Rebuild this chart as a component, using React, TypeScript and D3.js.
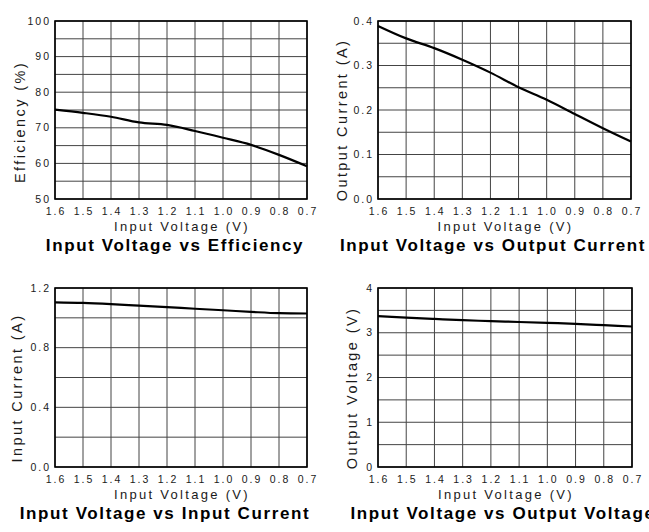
import * as d3 from 'd3';

const INPUT_VOLTAGE = [1.6, 1.5, 1.4, 1.3, 1.2, 1.1, 1.0, 0.9, 0.8, 0.7];
const EFFICIENCY = [75.1, 74.2, 73.1, 71.5, 70.8, 69.1, 67.2, 65.2, 62.4, 59.2];
const OUTPUT_CURRENT = [0.389, 0.361, 0.339, 0.313, 0.284, 0.251, 0.223, 0.191, 0.159, 0.129];
const INPUT_CURRENT = [1.104, 1.1, 1.092, 1.082, 1.072, 1.061, 1.051, 1.04, 1.031, 1.029];
const OUTPUT_VOLTAGE = [3.37, 3.34, 3.31, 3.28, 3.26, 3.24, 3.22, 3.2, 3.17, 3.14];

const X_TICKS = [1.6, 1.5, 1.4, 1.3, 1.2, 1.1, 1.0, 0.9, 0.8, 0.7];
const EFF_TICKS = [50, 60, 70, 80, 90, 100];
const OUT_I_TICKS = [0, 0.1, 0.2, 0.3, 0.4];
const IN_I_TICKS = [0, 0.4, 0.8, 1.2];
const OUT_V_TICKS = [0, 1, 2, 3, 4];

const FONT = '"Liberation Sans", Arial, sans-serif';

interface Panel {
  values: number[];
  yDomain: [number, number];
  yTicks: number[];
  gridStep: number;
  fmt: (v: number) => string;
  yLabel: string;
  title: string;
  left: number; right: number; top: number; bottom: number;
  yLabelX: number; yLabelY: number;
  titleX: number;
}

const PANELS: Panel[] = [
  {
    values: EFFICIENCY, yDomain: [50, 100], yTicks: EFF_TICKS, gridStep: 5, fmt: d3.format('d'),
    yLabel: 'Efficiency (%)', title: 'Input Voltage vs Efficiency',
    left: 55, right: 307, top: 21, bottom: 199, yLabelX: 25, yLabelY: 122, titleX: 175,
  },
  {
    values: OUTPUT_CURRENT, yDomain: [0, 0.4], yTicks: OUT_I_TICKS, gridStep: 0.05, fmt: d3.format('.1f'),
    yLabel: 'Output Current (A)', title: 'Input Voltage vs Output Current',
    left: 378, right: 631, top: 21, bottom: 199, yLabelX: 347, yLabelY: 120, titleX: 493,
  },
  {
    values: INPUT_CURRENT, yDomain: [0, 1.2], yTicks: IN_I_TICKS, gridStep: 0.2, fmt: d3.format('.1f'),
    yLabel: 'Input Current (A)', title: 'Input Voltage vs Input Current',
    left: 55, right: 307, top: 288, bottom: 467, yLabelX: 22, yLabelY: 388, titleX: 165,
  },
  {
    values: OUTPUT_VOLTAGE, yDomain: [0, 4], yTicks: OUT_V_TICKS, gridStep: 0.5, fmt: d3.format('d'),
    yLabel: 'Output Voltage (V)', title: 'Input Voltage vs Output Voltage',
    left: 378, right: 632, top: 288, bottom: 467, yLabelX: 357, yLabelY: 388, titleX: 503,
  },
];

function ChartPanel({ p }: { p: Panel }) {
  const x = d3.scaleLinear().domain([1.6, 0.7]).range([p.left, p.right]);
  const y = d3.scaleLinear().domain(p.yDomain).range([p.bottom, p.top]);
  const grid = d3.range(p.yDomain[0], p.yDomain[1] + p.gridStep / 2, p.gridStep);
  const line = d3.line<number>()
    .x((_, i) => x(INPUT_VOLTAGE[i]))
    .y(d => y(d))
    .curve(d3.curveMonotoneX);

  return (
    <g fontFamily={FONT}>
      {/* grid */}
      {grid.map((v, i) => (
        <line key={'h' + i} x1={p.left} x2={p.right} y1={y(v)} y2={y(v)} stroke="#444" strokeWidth={1} />
      ))}
      {X_TICKS.map((v, i) => (
        <line key={'v' + i} x1={x(v)} x2={x(v)} y1={p.top} y2={p.bottom} stroke="#444" strokeWidth={1} />
      ))}
      <rect x={p.left} y={p.top} width={p.right - p.left} height={p.bottom - p.top}
        fill="none" stroke="#000" strokeWidth={1.6} />

      {/* curve */}
      <path d={line(p.values) ?? ''} fill="none" stroke="#000" strokeWidth={2.2} />

      {/* y ticks */}
      {p.yTicks.map((v, i) => (
        <text key={'yt' + i} x={p.left - 4} y={y(v)} dy="0.35em" textAnchor="end"
          fontSize={10.5} letterSpacing={2} fill="#1a1a1a">{p.fmt(v)}</text>
      ))}
      {/* x ticks */}
      {X_TICKS.map((v, i) => (
        <text key={'xt' + i} x={x(v) + 1} y={p.bottom + 16} textAnchor="middle"
          fontSize={10.5} letterSpacing={2} fill="#1a1a1a">{d3.format('.1f')(v)}</text>
      ))}

      <text x={(p.left + p.right) / 2 + 1} y={p.bottom + 32} textAnchor="middle"
        fontSize={13} letterSpacing={2.3} fill="#1a1a1a">Input Voltage (V)</text>
      <text transform={`translate(${p.yLabelX},${p.yLabelY}) rotate(-90)`} textAnchor="middle"
        fontSize={14.5} letterSpacing={2.4} fill="#1a1a1a">{p.yLabel}</text>
      <text x={p.titleX} y={p.bottom + 52} textAnchor="middle"
        fontSize={17} fontWeight="bold" letterSpacing={1.6} fill="#000">{p.title}</text>
    </g>
  );
}

export default function App() {
  return (
    <svg width={649} height={532} style={{ position: 'absolute', left: 0, top: 0, background: '#fff' }}>
      <rect width={649} height={532} fill="#fff" />
      {PANELS.map((p, i) => <ChartPanel key={i} p={p} />)}
    </svg>
  );
}
